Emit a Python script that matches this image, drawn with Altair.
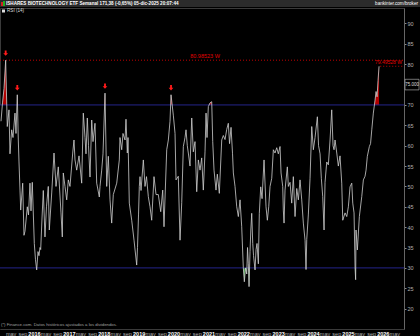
import altair as alt
import pandas as pd

# ---------------- data ----------------
header_left = "ISHARES BIOTECHNOLOGY ETF Semanal 171,38 (-0,65%) 05-dic-2025 20:07:44"
header_right = "bankinter.com/broker"
legend_label = "RSI (14)"
footer_text = "(*) Finance.com. Datos históricos ajustados a los dividendos."

# time of each reading as decimal year
year_pos = [
    2015.054, 2015.097, 2015.140, 2015.188, 2015.234, 2015.283, 2015.312, 2015.360, 2015.398, 2015.455,
    2015.484, 2015.521, 2015.550, 2015.570, 2015.599, 2015.619, 2015.676, 2015.713, 2015.742, 2015.808,
    2015.842, 2015.885, 2015.914, 2015.951, 2016.009, 2016.043, 2016.077, 2016.115, 2016.143, 2016.172,
    2016.192, 2016.229, 2016.267, 2016.315, 2016.358, 2016.410, 2016.439, 2016.508, 2016.574, 2016.631,
    2016.697, 2016.774, 2016.812, 2016.840, 2016.889, 2016.938, 2016.984, 2017.032, 2017.110, 2017.147,
    2017.176, 2017.225, 2017.291, 2017.368, 2017.414, 2017.463, 2017.491, 2017.529, 2017.563, 2017.606,
    2017.655, 2017.692, 2017.749, 2017.798, 2017.873, 2017.893, 2017.941, 2017.979, 2018.036, 2018.085,
    2018.131, 2018.180, 2018.228, 2018.274, 2018.372, 2018.446, 2018.466, 2018.515, 2018.552, 2018.610,
    2018.638, 2018.676, 2018.696, 2018.733, 2018.802, 2018.868, 2018.945, 2018.968, 2018.997, 2019.020,
    2019.040, 2019.069, 2019.135, 2019.183, 2019.226, 2019.278, 2019.327, 2019.375, 2019.441, 2019.499,
    2019.565, 2019.634, 2019.691, 2019.728, 2019.806, 2019.852, 2019.900, 2019.929, 2019.995, 2020.044,
    2020.072, 2020.138, 2020.187, 2020.236, 2020.282, 2020.330, 2020.359, 2020.396, 2020.425, 2020.474,
    2020.523, 2020.568, 2020.617, 2020.666, 2020.712, 2020.761, 2020.809, 2020.855, 2020.904, 2020.933,
    2020.961, 2020.999, 2021.047, 2021.096, 2021.125, 2021.162, 2021.219, 2021.257, 2021.314, 2021.383,
    2021.429, 2021.478, 2021.526, 2021.572, 2021.607, 2021.650, 2021.693, 2021.716, 2021.764, 2021.813,
    2021.859, 2021.908, 2021.956, 2022.002, 2022.031, 2022.065, 2022.100, 2022.123, 2022.146, 2022.166,
    2022.194, 2022.217, 2022.243, 2022.272, 2022.295, 2022.338, 2022.367, 2022.395, 2022.433, 2022.461,
    2022.501, 2022.539, 2022.596, 2022.653, 2022.691, 2022.731, 2022.768, 2022.817, 2022.863, 2022.911,
    2022.960, 2023.006, 2023.055, 2023.084, 2023.132, 2023.149, 2023.170, 2023.198, 2023.264, 2023.293,
    2023.342, 2023.390, 2023.436, 2023.485, 2023.534, 2023.580, 2023.628, 2023.677, 2023.723, 2023.772,
    2023.800, 2023.821, 2023.866, 2023.915, 2023.964, 2024.010, 2024.059, 2024.125, 2024.159, 2024.202,
    2024.239, 2024.279, 2024.317, 2024.345, 2024.394, 2024.440, 2024.489, 2024.537, 2024.575, 2024.603,
    2024.632, 2024.681, 2024.727, 2024.775, 2024.824, 2024.853, 2024.919, 2024.968, 2025.014, 2025.062,
    2025.111, 2025.140, 2025.177, 2025.206, 2025.223, 2025.234, 2025.272, 2025.329, 2025.398, 2025.444,
    2025.492, 2025.521, 2025.558, 2025.616, 2025.650, 2025.685, 2025.730, 2025.779, 2025.808, 2025.837,
    2025.865, 2025.894,
]
rsi_values = [
    66.0, 70.5, 74.0, 80.98, 64.7, 68.8, 58.0, 63.9, 62.0, 68.0,
    63.0, 72.5, 61.4, 56.0, 49.1, 44.2, 50.8, 38.0, 39.0, 45.0,
    43.0, 50.8, 44.0, 51.0, 36.0, 32.0, 29.5, 34.0, 33.0, 35.0,
    34.5, 42.0, 49.0, 37.6, 45.0, 50.0, 39.3, 48.4, 58.2, 50.0,
    54.8, 43.5, 37.6, 53.3, 50.0, 46.7, 51.6, 50.0, 58.2, 61.4,
    56.5, 54.0, 57.5, 50.8, 68.0, 62.0, 58.0, 66.8, 60.0, 52.3,
    66.3, 61.0, 65.5, 50.8, 47.4, 50.0, 54.0, 58.0, 72.9, 50.0,
    57.4, 46.7, 41.0, 48.0, 50.8, 56.5, 62.0, 59.0, 63.0, 61.4,
    66.5, 58.2, 62.0, 45.9, 41.7, 36.8, 30.7, 35.0, 43.0, 50.0,
    52.4, 49.0, 56.5, 50.0, 52.4, 47.5, 45.0, 41.7, 52.4, 48.0,
    48.0, 43.8, 49.1, 40.1, 59.0, 61.4, 66.0, 72.5, 67.5, 63.0,
    51.6, 52.5, 36.8, 46.0, 59.8, 62.0, 63.9, 60.0, 58.2, 55.0,
    66.8, 58.5, 61.0, 48.7, 56.5, 54.0, 57.0, 49.1, 58.5, 68.0,
    62.0, 69.6, 70.5, 70.8, 61.0, 54.0, 49.1, 53.0, 48.3, 61.4,
    62.5, 61.5, 64.0, 65.5, 60.5, 64.5, 58.0, 53.3, 50.0, 45.0,
    42.6, 46.7, 40.1, 30.0, 26.6, 30.0, 28.5, 35.0, 31.0, 25.4,
    34.0, 39.3, 43.4, 36.0, 33.0, 29.5, 34.5, 36.0, 31.0, 43.4,
    49.9, 47.0, 56.5, 45.0, 41.7, 45.0, 50.0, 52.0, 59.0, 58.2,
    59.5, 58.0, 59.8, 53.3, 50.0, 44.2, 41.0, 49.1, 54.8, 50.0,
    51.0, 45.9, 52.4, 42.6, 49.5, 46.7, 51.6, 46.7, 41.0, 36.8,
    29.6, 37.0, 43.0, 52.0, 64.7, 59.0, 62.0, 67.1, 60.0, 58.0,
    52.0, 47.5, 39.3, 51.0, 56.0, 55.3, 61.4, 68.8, 60.0, 59.0,
    61.4, 58.2, 55.0, 57.5, 50.8, 41.7, 43.5, 42.6, 45.0, 49.9,
    50.8, 45.9, 43.5, 30.0, 27.1, 39.3, 34.4, 42.6, 47.5, 51.6,
    52.5, 54.0, 57.4, 59.8, 60.5, 63.9, 68.0, 71.2, 73.3, 72.0,
    76.0, 79.49,
]

# signal arrows (overbought peaks)
arrow_years = [2015.188, 2015.521, 2018.036, 2019.929]
arrow_values = [80.98, 72.5, 72.9, 72.5]

overbought = 70
oversold = 30
max_level = 80.98523
last_level = 79.49528
max_label = "80.98523 W"
last_label = "79.49528 W"
box_label = "75.000"
y_ticks = [20, 25, 30, 35, 40, 45, 50, 55, 60, 65, 70, 75, 80, 85, 90]

# ---------------- build tables ----------------
def to_dates(years):
    s = pd.Series(years, dtype=float)
    return pd.Timestamp("2016-01-01") + pd.to_timedelta((s - 2016.0) * 365.25, unit="D")

df = pd.DataFrame({"date": to_dates(year_pos), "rsi": rsi_values})
arrows = pd.DataFrame({"date": to_dates(arrow_years), "rsi": arrow_values})
levels = pd.DataFrame({"lvl": [oversold, overbought]})
one = pd.DataFrame({"a": [0]})

W, H = 404, 321
FONT = "Liberation Sans"
BG = "#000000"

x_dom = [alt.DateTime(year=2015, month=1, date=10), alt.DateTime(year=2026, month=8, date=11)]
tick_vals = []
for yy in range(2015, 2027):
    for mm in (1, 5, 9):
        if (yy, mm) in [(2015, 1), (2026, 9)]:
            continue
        tick_vals.append(alt.DateTime(year=yy, month=mm, date=1))

xscale = alt.Scale(domain=x_dom)
yscale = alt.Scale(domain=[15, 93.8], nice=False, zero=False)

x_axis = alt.Axis(
    values=tick_vals, title=None, grid=False, domain=False, ticks=False,
    labelExpr="month(datum.value)==0 ? timeFormat(datum.value,'%Y') : (month(datum.value)==4 ? 'may' : 'sep')",
    labelFont=FONT, labelFontSize=5.5, labelPadding=2,
    labelColor={"condition": {"test": "month(datum.value)==0", "value": "#ffffff"}, "value": "#b0b0b0"},
    labelFontWeight={"condition": {"test": "month(datum.value)==0", "value": "bold"}, "value": "normal"},
    labelOverlap=False, labelFlush=False, labelBound=False,
)
y_axis = alt.Axis(
    orient="right", values=y_ticks, title=None, grid=False,
    labelExpr="datum.value==75 ? '' : datum.label",
    labelFont=FONT, labelFontSize=5.5, labelColor="#b0b0b0", labelPadding=1,
    labelOverlap=False,
    tickSize=2, tickColor="#888888", domainColor="#666666", domainWidth=1,
)

X = alt.X("date:T", scale=xscale, axis=x_axis)
Y = alt.Y("rsi:Q", scale=yscale, axis=y_axis)


def ydat(v):
    return alt.Y(datum=v, type="quantitative", scale=yscale, axis=y_axis)


def y2dat(v):
    return alt.Y2(datum=v)


red_area = alt.Chart(df).mark_area(color="#b00000", opacity=1).encode(
    x=X, y=Y, y2=y2dat(overbought)
)
mask_low = alt.Chart(one).mark_rect(color=BG).encode(
    x=alt.value(0), x2=alt.value(W), y=ydat(15), y2=y2dat(overbought)
)
green_area = alt.Chart(df).transform_calculate(lo="min(datum.rsi, 70)").mark_area(
    color="#3c9a3c", opacity=1
).encode(x=X, y=alt.Y("lo:Q", scale=yscale, axis=y_axis), y2=y2dat(oversold))
mask_mid = alt.Chart(one).mark_rect(color=BG).encode(
    x=alt.value(0), x2=alt.value(W), y=ydat(oversold), y2=y2dat(overbought)
)
level_rules = alt.Chart(levels).mark_rule(color="#24248a", strokeWidth=1).encode(
    y=alt.Y("lvl:Q", scale=yscale, axis=y_axis)
)
max_rule = alt.Chart(one).mark_rule(color="#c00000", strokeWidth=1, strokeDash=[1, 2]).encode(
    y=ydat(max_level), x=alt.value(0), x2=alt.value(W)
)
last_rule = alt.Chart(one).mark_rule(color="#c00000", strokeWidth=1, strokeDash=[1, 2]).encode(
    y=ydat(last_level),
    x=alt.X(datum=alt.DateTime(year=2025, month=12, date=5), type="temporal", scale=xscale, axis=x_axis),
    x2=alt.value(W),
)
line = alt.Chart(df).mark_line(color="#cfcfcf", strokeWidth=0.8, interpolate="linear").encode(x=X, y=Y)

arrow_path = "M-0.35,-1 L0.35,-1 L0.35,0 L0.9,0 L0,1 L-0.9,0 L-0.35,0 Z"
arrow_marks = alt.Chart(arrows).mark_point(
    shape=arrow_path, filled=True, color="#ff1a1a", opacity=1, size=28, yOffset=-7
).encode(x=X, y=Y)

max_text = alt.Chart(one).mark_text(
    text=max_label, color="#e00000", font=FONT, fontSize=5.5, align="center", baseline="bottom", dy=-1
).encode(x=alt.value(205), y=ydat(max_level))
last_text = alt.Chart(one).mark_text(
    text=last_label, color="#e00000", font=FONT, fontSize=5, align="right", baseline="bottom", dy=-1
).encode(x=alt.value(W - 2), y=ydat(last_level))

box = alt.Chart(one).mark_rect(fill="#000000", stroke="#bbbbbb", strokeWidth=0.6).encode(
    x=alt.value(W + 1), x2=alt.value(W + 15), y=ydat(76.3), y2=y2dat(73.7)
)
box_text = alt.Chart(one).mark_text(
    text=box_label, color="#dddddd", font=FONT, fontSize=4.5, align="center", baseline="middle"
).encode(x=alt.value(W + 8), y=ydat(75))

header_bar = alt.Chart(one).mark_rect(color="#2b2b2b").encode(
    x=alt.value(0), x2=alt.value(420), y=alt.value(-8), y2=alt.value(-1)
)
header_icon_r = alt.Chart(one).mark_rect(color="#d02020").encode(
    x=alt.value(1), x2=alt.value(3), y=alt.value(-6), y2=alt.value(-2)
)
header_icon_g = alt.Chart(one).mark_rect(color="#20b020").encode(
    x=alt.value(3), x2=alt.value(5), y=alt.value(-7), y2=alt.value(-2)
)
header_left_txt = alt.Chart(one).mark_text(
    text=header_left, color="#ffffff", font=FONT, fontSize=4.6, fontWeight="bold",
    align="left", baseline="middle"
).encode(x=alt.value(6), y=alt.value(-4.5))
header_right_txt = alt.Chart(one).mark_text(
    text=header_right, color="#ffffff", font=FONT, fontSize=4.6, align="right", baseline="middle"
).encode(x=alt.value(418), y=alt.value(-4.5))

legend_sq = alt.Chart(one).mark_rect(color="#dddddd").encode(
    x=alt.value(2), x2=alt.value(5), y=alt.value(1.5), y2=alt.value(4.5)
)
legend_txt = alt.Chart(one).mark_text(
    text=legend_label, color="#dddddd", font=FONT, fontSize=4.6, align="left", baseline="middle"
).encode(x=alt.value(7), y=alt.value(3))

footer = alt.Chart(one).mark_text(
    text=footer_text, color="#a0a0a0", font=FONT, fontSize=4.3, align="left", baseline="middle"
).encode(x=alt.value(1), y=alt.value(H - 4))

chart = alt.layer(
    red_area, mask_low, green_area, mask_mid, level_rules, max_rule, last_rule, line,
    arrow_marks, max_text, last_text, box, box_text,
    header_bar, header_icon_r, header_icon_g, header_left_txt, header_right_txt,
    legend_sq, legend_txt, footer,
).properties(
    width=W, height=H, background=BG,
    padding={"left": 0, "top": 8, "right": 16, "bottom": 7},
    autosize=alt.AutoSizeParams(type="none"),
).configure_view(stroke="#3a3a3a", strokeWidth=1, fill=BG)

chart.save("out.html", embed_options={"renderer": "svg", "actions": False})
